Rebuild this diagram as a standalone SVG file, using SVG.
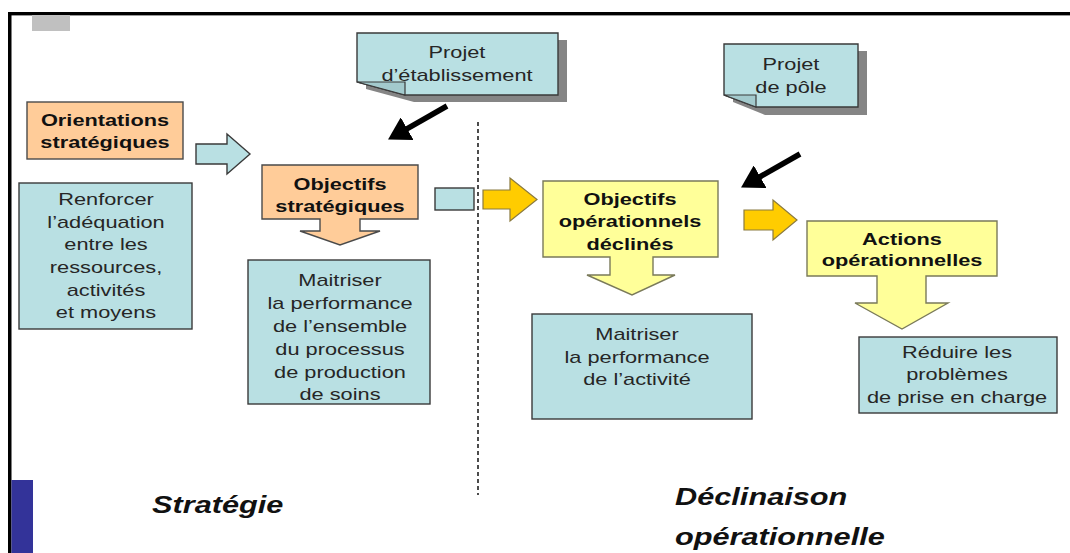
<svg xmlns="http://www.w3.org/2000/svg" width="1070" height="553" viewBox="0 0 1070 553">
  <defs>
    <style>
      .peach { fill: #FFCC99; stroke: #4a4a4a; stroke-width: 1.4; }
      .cyan { fill: #B9E0E3; stroke: #3a3a3a; stroke-width: 1.4; }
      .yellow { fill: #FFFF99; stroke: #7a7a5a; stroke-width: 1.4; }
      .gold { fill: #FFCC00; stroke: #8a7a40; stroke-width: 1.2; }
      .fold { fill: #A3CACD; stroke: #3a3a3a; stroke-width: 1.2; }
      .shadow { fill: #858585; }
      .title { font-family: "Liberation Sans", Arial, sans-serif; font-size: 17px; font-weight: bold; fill: #111; text-anchor: middle; }
      .body { font-family: "Liberation Sans", Arial, sans-serif; font-size: 17px; fill: #262626; text-anchor: middle; }
      .section { font-family: "Liberation Sans", Arial, sans-serif; font-size: 24px; font-weight: bold; font-style: italic; fill: #111; }
      .pointer { stroke: #000; stroke-width: 5.5; fill: none; }
    </style>
    <marker id="blackHead" markerUnits="userSpaceOnUse" markerWidth="24" markerHeight="26" viewBox="0 0 24 26" refX="14" refY="13" orient="auto">
      <path d="M0,0 L22,13 L0,26 Z" fill="#000"/>
    </marker>
  </defs>

  <!-- slide frame -->
  <rect x="8" y="12" width="1062" height="3" fill="#000"/>
  <rect x="8" y="15" width="1062" height="1" fill="#9a9a9a"/>
  <rect x="8" y="12" width="3.5" height="541" fill="#000"/>
  <rect x="32" y="15" width="38" height="16" fill="#C0C0C0"/>
  <rect x="11.5" y="480" width="21.5" height="73" fill="#333399"/>

  <!-- separator between the two halves -->
  <line x1="478" y1="122" x2="478" y2="495" stroke="#000" stroke-width="1.4" stroke-dasharray="4 3"/>

  <!-- connectors -->
  <g id="connectors">
    <path class="cyan" d="M196,144 H227 V134 L250,154 L227,174 V164 H196 Z"/>
    <rect class="cyan" x="435" y="188" width="39" height="22"/>
    <path class="gold" d="M483,190 H510 V178 L537,199.5 L510,221 V209 H483 Z"/>
    <path class="gold" d="M744,210 H773 V200 L797,220 L773,240 V230 H744 Z"/>
    <line class="pointer" x1="447" y1="106" x2="395" y2="135.6" marker-end="url(#blackHead)"/>
    <line class="pointer" x1="800" y1="154" x2="748" y2="183.6" marker-end="url(#blackHead)"/>
  </g>

  <!-- left column -->
  <g id="orientations">
    <rect class="peach" x="27" y="102" width="156" height="57"/>
    <g transform="matrix(1.28 0 0 1 105 0)">
      <text class="title" x="0" y="126">Orientations</text>
      <text class="title" x="0" y="148">stratégiques</text>
    </g>
  </g>

  <g id="renforcer">
    <rect class="cyan" x="19" y="183" width="173" height="146"/>
    <g transform="matrix(1.28 0 0 1 106 0)">
      <text class="body" x="0" y="205">Renforcer</text>
      <text class="body" x="0" y="228">l’adéquation</text>
      <text class="body" x="0" y="250">entre les</text>
      <text class="body" x="0" y="273">ressources,</text>
      <text class="body" x="0" y="296">activités</text>
      <text class="body" x="0" y="318">et moyens</text>
    </g>
  </g>

  <!-- project notes -->
  <g id="projet-etablissement">
    <path class="shadow" d="M366,40 H567 V102 H414 L366,89 Z"/>
    <path class="cyan" d="M357,33 H558 V95 H405 L357,82 Z"/>
    <path class="fold" d="M357,82 H405 V95 Z"/>
    <g transform="matrix(1.28 0 0 1 457 0)">
      <text class="body" x="0" y="58">Projet</text>
      <text class="body" x="0" y="81">d’établissement</text>
    </g>
  </g>

  <g id="projet-pole">
    <path class="shadow" d="M733,51 H867 V115 H765 L733,102 Z"/>
    <path class="cyan" d="M724,44 H858 V107 H756 L724,95 Z"/>
    <path class="fold" d="M724,95 H756 V107 Z"/>
    <g transform="matrix(1.28 0 0 1 791 0)">
      <text class="body" x="0" y="70">Projet</text>
      <text class="body" x="0" y="93">de pôle</text>
    </g>
  </g>

  <!-- strategic objectives -->
  <g id="objectifs-strategiques">
    <path class="peach" d="M262,165 H418 V219 H360 V231 H380 L340,245 L300,231 H320 V219 H262 Z"/>
    <g transform="matrix(1.28 0 0 1 340 0)">
      <text class="title" x="0" y="190">Objectifs</text>
      <text class="title" x="0" y="212">stratégiques</text>
    </g>
  </g>

  <g id="maitriser-processus">
    <rect class="cyan" x="248" y="260" width="182" height="144"/>
    <g transform="matrix(1.28 0 0 1 340 0)">
      <text class="body" x="0" y="286">Maitriser</text>
      <text class="body" x="0" y="309">la performance</text>
      <text class="body" x="0" y="332">de l’ensemble</text>
      <text class="body" x="0" y="355">du processus</text>
      <text class="body" x="0" y="378">de production</text>
      <text class="body" x="0" y="400">de soins</text>
    </g>
  </g>

  <!-- operational side -->
  <g id="objectifs-operationnels">
    <path class="yellow" d="M543,181 H718 V257 H653 V275 H675 L632,295 L587,275 H610 V257 H543 Z"/>
    <g transform="matrix(1.28 0 0 1 630 0)">
      <text class="title" x="0" y="205">Objectifs</text>
      <text class="title" x="0" y="227">opérationnels</text>
      <text class="title" x="0" y="250">déclinés</text>
    </g>
  </g>

  <g id="maitriser-activite">
    <rect class="cyan" x="532" y="314" width="220" height="105"/>
    <g transform="matrix(1.28 0 0 1 637 0)">
      <text class="body" x="0" y="340">Maitriser</text>
      <text class="body" x="0" y="363">la performance</text>
      <text class="body" x="0" y="385">de l’activité</text>
    </g>
  </g>

  <g id="actions-operationnelles">
    <path class="yellow" d="M807,221 H997 V276 H926 V303 H948 L902,329 L855,303 H877 V276 H807 Z"/>
    <g transform="matrix(1.28 0 0 1 902 0)">
      <text class="title" x="0" y="245">Actions</text>
      <text class="title" x="0" y="266">opérationnelles</text>
    </g>
  </g>

  <g id="reduire">
    <rect class="cyan" x="859" y="337" width="198" height="76"/>
    <g transform="matrix(1.28 0 0 1 957 0)">
      <text class="body" x="0" y="358">Réduire les</text>
      <text class="body" x="0" y="380">problèmes</text>
      <text class="body" x="0" y="403">de prise en charge</text>
    </g>
  </g>

  <!-- section captions -->
  <g id="captions">
    <text class="section" transform="matrix(1.28 0 0 1 152 513)" x="0" y="0">Stratégie</text>
    <text class="section" transform="matrix(1.28 0 0 1 675 505)" x="0" y="0">Déclinaison</text>
    <text class="section" transform="matrix(1.28 0 0 1 675 545)" x="0" y="0">opérationnelle</text>
  </g>
</svg>
